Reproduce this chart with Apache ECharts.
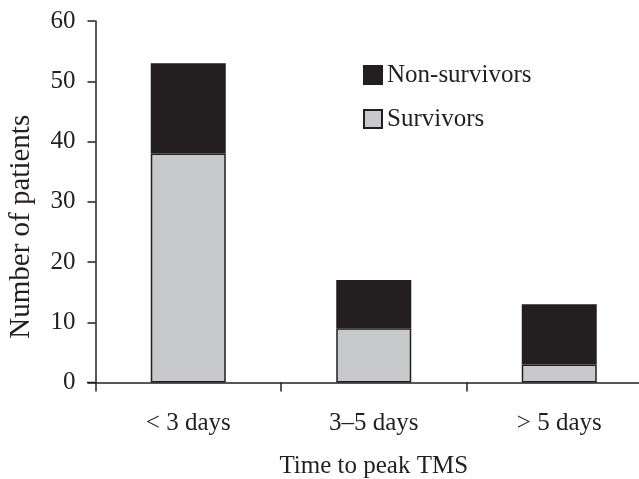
<!DOCTYPE html>
<html><head><meta charset="utf-8">
<script src="https://cdn.jsdelivr.net/npm/echarts@6/dist/echarts.min.js"></script>
<style>html,body{margin:0;padding:0;background:#fff}#c{width:639px;height:479px}</style>
</head><body><div id="c"></div>
<script>
const categories = ['< 3 days', '3\u20135 days', '> 5 days'];
const survivors = [38, 9, 3];
const nonSurvivors = [15, 8, 10];
const yTicks = {min: 0, max: 60, interval: 10};

const font = 'Liberation Serif';
const ink = '#231f20';
const chart = echarts.init(document.getElementById('c'), null, {renderer: 'canvas'});
chart.setOption({
  animation: false,
  backgroundColor: '#fff',
  textStyle: {fontFamily: font, color: ink},
  grid: {left: 95.5, right: -13, top: 21, bottom: 96.5, containLabel: false, outerBoundsMode: 'none'},
  legend: {
    data: ['Non-survivors', 'Survivors'],
    orient: 'vertical', left: 363, top: 62.5, padding: 0,
    itemWidth: 18, itemHeight: 18, itemGap: 19,
    icon: 'rect',
    textStyle: {fontFamily: font, fontSize: 25, color: ink, lineHeight: 18}
  },
  xAxis: {
    type: 'category', data: categories,
    name: 'Time to peak TMS', nameLocation: 'middle', nameGap: 71,
    nameTextStyle: {fontFamily: font, fontSize: 25, color: ink},
    axisLine: {onZero: false, lineStyle: {color: ink, width: 1.5}},
    axisTick: {show: true, inside: false, length: 9, alignWithLabel: false, lineStyle: {color: ink, width: 1.5}},
    axisLabel: {fontFamily: font, fontSize: 25, color: ink, margin: 28}
  },
  yAxis: {
    type: 'value', min: yTicks.min, max: yTicks.max, interval: yTicks.interval,
    name: 'Number of patients', nameLocation: 'middle', nameGap: 60, nameRotate: 90,
    nameTextStyle: {fontFamily: font, fontSize: 29, color: ink, padding: [0, 50, 0, 0]},
    axisLine: {show: true, lineStyle: {color: ink, width: 1.5}},
    axisTick: {show: true, length: 8, lineStyle: {color: ink, width: 1.5}},
    splitLine: {show: false},
    axisLabel: {fontFamily: font, fontSize: 25, color: ink, margin: 20}
  },
  series: [
    {name: 'Survivors', type: 'bar', stack: 'a', data: survivors, barWidth: 75,
     itemStyle: {color: '#c8c9cb', borderColor: ink, borderWidth: 1.5}},
    {name: 'Non-survivors', type: 'bar', stack: 'a', data: nonSurvivors, barWidth: 75,
     itemStyle: {color: ink, borderColor: ink, borderWidth: 1.5}}
  ],
  graphic: [
    {type: 'line', shape: {x1: 87, y1: 382.5, x2: 95.5, y2: 382.5}, style: {stroke: ink, lineWidth: 1.5}}
  ]
});
</script></body></html>
